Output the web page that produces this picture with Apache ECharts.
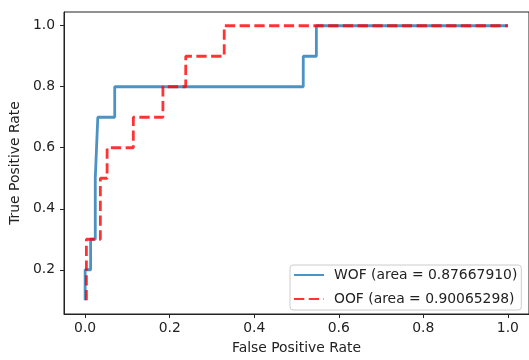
<!DOCTYPE html>
<html>
<head>
<meta charset="utf-8">
<script src="https://cdn.jsdelivr.net/npm/echarts@6/dist/echarts.min.js"></script>
<style>
html, body { margin: 0; padding: 0; background: #fff; }
#roc { width: 529px; height: 360px; }
</style>
</head>
<body>
<div id="roc"></div>
<script>
// ROC points (step curves)
var wofFpr = [0, 0, 0.013, 0.013, 0.024, 0.024, 0.027, 0.027, 0.030, 0.030, 0.070, 0.070, 0.516, 0.516, 0.547, 0.547, 1.0];
var wofTpr = [0.1, 0.2, 0.2, 0.3, 0.3, 0.5, 0.5, 0.6, 0.6, 0.7, 0.7, 0.8, 0.8, 0.9, 0.9, 1.0, 1.0];
var oofFpr = [0.003, 0.003, 0.036, 0.036, 0.052, 0.052, 0.114, 0.114, 0.184, 0.184, 0.238, 0.238, 0.329, 0.329, 1.0];
var oofTpr = [0.1, 0.3, 0.3, 0.5, 0.5, 0.6, 0.6, 0.7, 0.7, 0.8, 0.8, 0.9, 0.9, 1.0, 1.0];
var xTicks = [0, 0.2, 0.4, 0.6, 0.8, 1.0];
var yTicks = [0.2, 0.4, 0.6, 0.8, 1.0];
var names = ['WOF (area = 0.87667910)', 'OOF (area = 0.90065298)'];

var font = 'DejaVu Sans';
var txt = '#222';

function pairs(xs, ys) {
    var out = [];
    for (var i = 0; i < xs.length; i++) {
        out.push([xs[i], ys[i]]);
    }
    return out;
}

var myChart = echarts.init(document.getElementById('roc'));

var option = {
    backgroundColor: '#fff',
    animation: false,
    textStyle: { fontFamily: font },
    grid: {
        left: 62,
        right: -3,
        top: 12,
        bottom: 42,
        show: true,
        borderColor: '#222',
        borderWidth: 1
    },
    xAxis: {
        type: 'value',
        min: -0.05,
        max: 1.05,
        name: 'False Positive Rate',
        nameLocation: 'middle',
        nameGap: 27,
        nameTextStyle: { fontFamily: font, fontSize: 13.9, color: txt },
        axisLine: { show: true, onZero: false, lineStyle: { color: '#222', width: 1 } },
        axisTick: { show: true, customValues: xTicks, length: 4, lineStyle: { color: '#222' } },
        axisLabel: {
            customValues: xTicks,
            margin: 7,
            fontFamily: font,
            fontSize: 13.9,
            color: txt,
            formatter: function (v) { return v.toFixed(1); }
        },
        splitLine: { show: false }
    },
    yAxis: {
        type: 'value',
        min: 0.055,
        max: 1.045,
        name: 'True Positive Rate',
        nameLocation: 'middle',
        nameGap: 40,
        nameTextStyle: { fontFamily: font, fontSize: 13.9, color: txt },
        axisLine: { show: true, onZero: false, lineStyle: { color: '#222', width: 1 } },
        axisTick: { show: true, customValues: yTicks, length: 4, lineStyle: { color: '#222' } },
        axisLabel: {
            customValues: yTicks,
            margin: 9,
            fontFamily: font,
            fontSize: 13.9,
            color: txt,
            formatter: function (v) { return v.toFixed(1); }
        },
        splitLine: { show: false }
    },
    legend: {
        left: 290,
        top: 265,
        orient: 'vertical',
        data: names,
        padding: [3, 4, 4, 3],
        itemWidth: 30,
        itemHeight: 14,
        itemGap: 10,
        itemStyle: { opacity: 0 },
        backgroundColor: 'rgba(255,255,255,0.8)',
        borderColor: '#ccc',
        borderWidth: 1,
        borderRadius: 3,
        textStyle: { fontFamily: font, fontSize: 13.9, color: txt, lineHeight: 14, padding: [0, 0, 0, 5] }
    },
    series: [{
        name: names[0],
        type: 'line',
        data: pairs(wofFpr, wofTpr),
        symbol: 'none',
        lineStyle: { color: 'rgba(31,119,180,0.8)', width: 2.8 },
        itemStyle: { color: 'rgba(31,119,180,0.8)' }
    }, {
        name: names[1],
        type: 'line',
        data: pairs(oofFpr, oofTpr),
        symbol: 'none',
        lineStyle: { color: 'rgba(255,0,0,0.8)', width: 2.8, type: [10.3, 4.45], cap: 'butt' },
        itemStyle: { color: 'rgba(255,0,0,0.8)' }
    }]
};

myChart.setOption(option);
</script>
</body>
</html>
